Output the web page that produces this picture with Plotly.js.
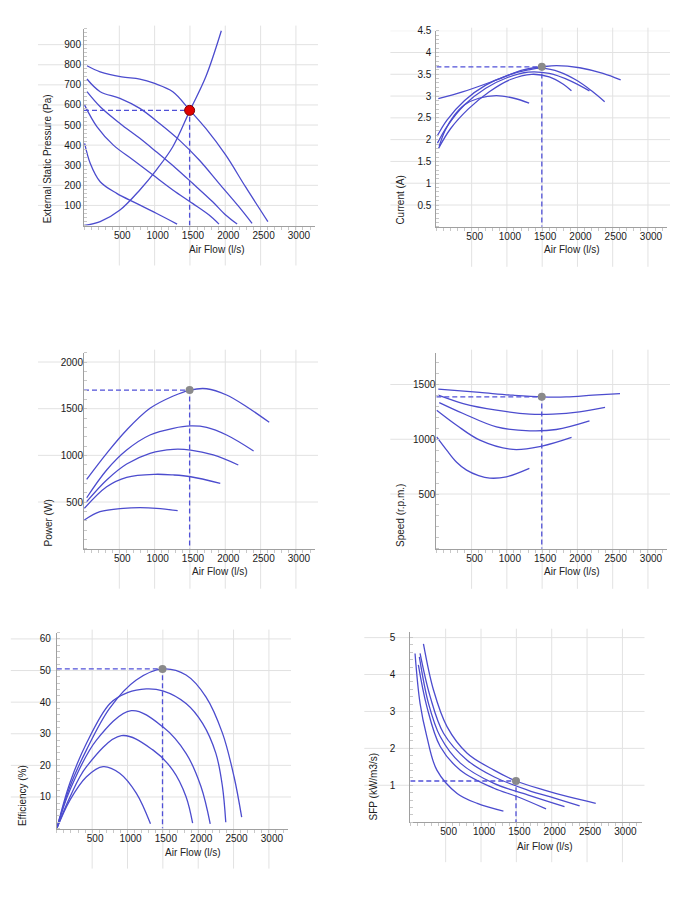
<!DOCTYPE html>
<html>
<head>
<meta charset="utf-8">
<script src="https://cdn.plot.ly/plotly-3.0.1.min.js"></script>
<style>
  html, body { margin: 0; padding: 0; background: #ffffff; }
  #chart { width: 695px; height: 900px; }
</style>
</head>
<body>
<div id="chart"></div>
<script>
// ---------------- DATA ----------------
const flowTicks = [500, 1000, 1500, 2000, 2500, 3000];
const opFlow = 1495;

// External static pressure (Pa) – five fan-speed curves + system curve
const pressureTicks = [100, 200, 300, 400, 500, 600, 700, 800, 900];
const pressureFlows = [
  [42, 229, 533, 790, 1000, 1257, 1500, 1724, 2005, 2285, 2603],
  [42, 229, 509, 790, 1070, 1350, 1631, 1911, 2192, 2379],
  [42, 229, 509, 790, 1023, 1304, 1537, 1818, 2005, 2168],
  [9, 182, 416, 696, 977, 1257, 1537, 1771, 1911],
  [9, 89, 229, 463, 743, 1023, 1318]
];
const pressureValues = [
  [795, 765, 740, 729, 707, 666, 573, 483, 351, 193, 19],
  [729, 666, 633, 583, 508, 425, 326, 210, 94, 11],
  [666, 591, 508, 434, 367, 284, 210, 119, 52, 7],
  [599, 492, 400, 326, 251, 177, 110, 52, 7],
  [409, 309, 218, 160, 110, 61, 7]
];
const systemFlow = [0, 229, 509, 790, 1023, 1257, 1500, 1724, 1944];
const systemPressure = [0, 19, 77, 177, 276, 392, 573, 740, 969];
const opPressure = 573;

// Current (A)
const currentTicks = [0.5, 1, 1.5, 2, 2.5, 3, 3.5, 4, 4.5];
const currentTickText = ['0.5', '1', '1.5', '2', '2.5', '3', '3.5', '4', '4.5'];
const currentFlows = [
  [27, 381, 853, 1230, 1500, 1702, 2032, 2362, 2613],
  [10, 150, 400, 700, 1000, 1300, 1500, 1750, 2000, 2200, 2386],
  [15, 150, 400, 700, 1000, 1300, 1600, 1900, 2170],
  [30, 200, 450, 750, 1050, 1350, 1600, 1800, 1915],
  [40, 120, 250, 400, 600, 850, 1100, 1315]
];
const currentValues = [
  [2.94, 3.10, 3.37, 3.60, 3.67, 3.70, 3.65, 3.52, 3.37],
  [2.08, 2.45, 2.90, 3.25, 3.47, 3.60, 3.64, 3.55, 3.35, 3.12, 2.87],
  [1.92, 2.30, 2.80, 3.18, 3.42, 3.55, 3.52, 3.35, 3.12],
  [1.80, 2.25, 2.70, 3.10, 3.38, 3.50, 3.44, 3.27, 3.12],
  [1.85, 2.20, 2.55, 2.80, 2.95, 3.01, 2.95, 2.84]
];
const opCurrent = 3.67;

// Power (W)
const powerTicks = [500, 1000, 1500, 2000];
const powerFlows = [
  [38, 321, 604, 934, 1264, 1500, 1736, 2019, 2302, 2622],
  [38, 321, 604, 934, 1264, 1510, 1736, 2019, 2401],
  [38, 321, 604, 934, 1264, 1510, 1830, 2184],
  [5, 321, 604, 1000, 1264, 1510, 1929],
  [5, 226, 557, 793, 1028, 1326]
];
const powerValues = [
  [743, 1022, 1272, 1504, 1636, 1700, 1714, 1647, 1521, 1354],
  [546, 843, 1057, 1218, 1290, 1315, 1300, 1218, 1047],
  [504, 736, 907, 1022, 1065, 1057, 1004, 897],
  [433, 664, 765, 797, 790, 771, 700],
  [307, 396, 433, 440, 433, 407]
];
const opPower = 1700;

// Speed (r.p.m.)
const speedTicks = [500, 1000, 1500];
const speedFlows = [
  [28, 617, 1088, 1497, 1842, 2218, 2604],
  [28, 381, 853, 1323, 1653, 2030, 2392],
  [42, 381, 853, 1323, 1700, 2171],
  [5, 288, 617, 1088, 1497, 1917],
  [5, 147, 288, 429, 600, 758, 994, 1319]
];
const speedValues = [
  [1457, 1427, 1402, 1387, 1387, 1402, 1417],
  [1402, 1326, 1265, 1229, 1229, 1250, 1290],
  [1335, 1235, 1113, 1077, 1089, 1168],
  [1265, 1128, 992, 907, 937, 1016],
  [1022, 901, 790, 718, 668, 645, 657, 734]
];
const opSpeed = 1387;

// Efficiency (%)
const effTicks = [10, 20, 30, 40, 50, 60];
const effFlows = [
  [0, 186, 420, 749, 1124, 1499, 1828, 2109, 2343, 2507, 2615],
  [0, 186, 420, 749, 1000, 1265, 1499, 1828, 2062, 2250, 2343, 2390],
  [0, 186, 561, 1054, 1499, 1828, 2039, 2170],
  [0, 186, 420, 913, 1358, 1640, 1828, 1921],
  [0, 186, 420, 655, 889, 1124, 1325]
];
const effValues = [
  [0, 13.3, 24.9, 38.1, 47.0, 50.5, 48.6, 41.7, 30.2, 16.4, 3.6],
  [0, 14.5, 27.0, 39.5, 43.0, 44.2, 43.6, 39.6, 33.3, 23.8, 13.3, 2.0],
  [0, 12.2, 28.0, 37.3, 32.2, 23.8, 13.3, 1.5],
  [0, 10.0, 19.6, 29.4, 24.9, 18.5, 10.1, 1.7],
  [0, 9.0, 16.4, 19.6, 17.5, 11.2, 1.5]
];
const opEff = 50.5;

// SFP (kW/m3/s)
const sfpTicks = [1, 2, 3, 4, 5];
const sfpFlows = [
  [186, 328, 519, 804, 1183, 1497, 1896, 2230, 2623],
  [138, 281, 470, 804, 1183, 1659, 2039, 2395],
  [128, 257, 423, 708, 1183, 1659, 2181],
  [114, 234, 423, 708, 1183, 1517, 1920],
  [67, 138, 234, 376, 662, 947, 1317]
];
const sfpValues = [
  [4.83, 3.58, 2.59, 1.87, 1.41, 1.116, 0.87, 0.69, 0.51],
  [4.57, 3.40, 2.41, 1.68, 1.23, 0.87, 0.65, 0.44],
  [4.48, 3.22, 2.32, 1.60, 1.05, 0.74, 0.42],
  [4.26, 3.13, 2.05, 1.41, 0.92, 0.69, 0.36],
  [4.57, 3.22, 2.32, 1.41, 0.78, 0.51, 0.30]
];
const opSfp = 1.116;

// ---------------- LAYOUT / STYLE ----------------
const W = 695, H = 900;
const FONT = 'Arial, "Liberation Sans", sans-serif';
const CURVE = 'rgb(76,76,206)';
const GRID = '#e2e2e2';
const AXIS = '#a0a0a0';

const panels = [
  { x0: 84,    x1: 315,   yTop: 28.6,  yBot: 225.5, yMax: 980,  yMinor: 20,  ticks: pressureTicks, text: null,
    flows: pressureFlows, vals: pressureValues, opY: opPressure, ytitle: 'External Static Pressure (Pa)',
    ytx: 48.3, xtx: 216.7, xty: 249.5, red: true, lblOff: 0 },
  { x0: 436.4, x1: 667,   yTop: 30.7,  yBot: 226.8, yMax: 4.5,  yMinor: 0.1, ticks: currentTicks, text: currentTickText,
    flows: currentFlows, vals: currentValues, opY: opCurrent, ytitle: 'Current (A)',
    ytx: 400.3, xtx: 571.7, xty: 249.7, lblOff: 2 },
  { x0: 84,    x1: 315,   yTop: 352.7, yBot: 548.7, yMax: 2100, yMinor: 100, ticks: powerTicks, text: null,
    flows: powerFlows, vals: powerValues, opY: opPower, ytitle: 'Power (W)',
    ytx: 48.3, xtx: 219.7, xty: 571.5, lblOff: -2 },
  { x0: 436.3, x1: 667,   yTop: 352.7, yBot: 548.8, yMax: 1790, yMinor: 100, ticks: speedTicks, text: null,
    flows: speedFlows, vals: speedValues, opY: opSpeed, ytitle: 'Speed (r.p.m.)',
    ytx: 400.7, xtx: 571.7, xty: 571.5, lblOff: -2 },
  { x0: 56.8,  x1: 288,   yTop: 632.6, yBot: 828.6, yMax: 62,   yMinor: 2,   ticks: effTicks, text: null,
    flows: effFlows, vals: effValues, opY: opEff, ytitle: 'Efficiency (%)',
    ytx: 22, xtx: 193, xty: 852, lblOff: 3 },
  { x0: 410.3, x1: 641.5, yTop: 631.7, yBot: 822.2, yMax: 5.16, yMinor: 0.2, ticks: sfpTicks, text: null,
    flows: sfpFlows, vals: sfpValues, opY: opSfp, ytitle: 'SFP (kW/m3/s)',
    ytx: 373.3, xtx: 545, xty: 846, lblOff: 12 }
];

const traces = [];
const shapes = [];
const annotations = [];
const layout = {
  width: W, height: H,
  margin: { l: 0, r: 0, t: 0, b: 0, pad: 0 },
  paper_bgcolor: '#ffffff', plot_bgcolor: 'rgba(0,0,0,0)',
  showlegend: false,
  font: { family: FONT, size: 10, color: '#222' }
};

panels.forEach((p, i) => {
  const n = i + 1;
  const xa = 'x' + n, ya = 'y' + n;
  const xKey = 'xaxis' + (n === 1 ? '' : n), yKey = 'yaxis' + (n === 1 ? '' : n);
  layout[xKey] = {
    domain: [p.x0 / W, p.x1 / W], range: [0, 3270], anchor: ya,
    showgrid: false, zeroline: false, showline: true, linecolor: AXIS, linewidth: 1,
    tickmode: 'array', tickvals: flowTicks, ticks: '', ticklabelshift: 3,
    tickfont: { family: FONT, size: 10, color: '#1a1a1a' },
    minor: { ticks: 'outside', ticklen: 3, dtick: 100, tick0: 0, tickcolor: '#c8c8c8', showgrid: false },
    fixedrange: true
  };
  const yax = {
    domain: [1 - p.yBot / H, 1 - p.yTop / H], range: [0, p.yMax], anchor: xa,
    showgrid: false, zeroline: false, showline: true, linecolor: AXIS, linewidth: 1,
    tickmode: 'array', tickvals: p.ticks, ticks: '', ticklabelstandoff: p.lblOff,
    tickfont: { family: FONT, size: 10, color: '#1a1a1a' },
    minor: { ticks: 'inside', ticklen: 3, dtick: p.yMinor, tick0: 0, tickcolor: '#c8c8c8', showgrid: false },
    fixedrange: true
  };
  if (p.text) yax.ticktext = p.text;
  layout[yKey] = yax;

  // extended grid lines (drawn through the axis scales)
  flowTicks.forEach(v => shapes.push({
    type: 'line', layer: 'below', xref: xa, yref: 'paper',
    x0: v, x1: v, y0: 1 - (p.yBot + 40) / H, y1: 1 - (p.yTop - 3) / H,
    line: { color: GRID, width: 1 }
  }));
  p.ticks.forEach(v => shapes.push({
    type: 'line', layer: 'below', xref: 'paper', yref: ya,
    x0: (p.x0 - 46) / W, x1: (p.x1 + 3) / W, y0: v, y1: v,
    line: { color: GRID, width: 1 }
  }));

  // fan curves
  p.flows.forEach((fx, k) => traces.push({
    type: 'scatter', mode: 'lines', x: fx, y: p.vals[k], xaxis: xa, yaxis: ya,
    line: { color: CURVE, width: 1.3, shape: 'spline', smoothing: 1 }, hoverinfo: 'skip'
  }));
  if (p.red) {
    traces.push({
      type: 'scatter', mode: 'lines', x: systemFlow, y: systemPressure, xaxis: xa, yaxis: ya,
      line: { color: CURVE, width: 1.3, shape: 'spline', smoothing: 1 }, hoverinfo: 'skip'
    });
  }
  // operating point guides
  traces.push({
    type: 'scatter', mode: 'lines', x: [0, opFlow, opFlow], y: [p.opY, p.opY, 0], xaxis: xa, yaxis: ya,
    line: { color: 'rgb(80,80,215)', width: 1.3, dash: '5px,3px' }, hoverinfo: 'skip'
  });
  traces.push({
    type: 'scatter', mode: 'markers', x: [opFlow], y: [p.opY], xaxis: xa, yaxis: ya,
    marker: p.red ? { color: '#e00000', size: 10, line: { color: '#7a0000', width: 1 } }
                  : { color: '#8a8a8a', size: 8, line: { width: 0 } },
    hoverinfo: 'skip'
  });

  // axis titles
  annotations.push({
    xref: 'paper', yref: 'paper', x: p.ytx / W, y: 1 - p.yBot / H,
    xanchor: 'center', yanchor: 'bottom', textangle: -90, showarrow: false,
    text: p.ytitle, font: { family: FONT, size: 10, color: '#222' }
  });
  annotations.push({
    xref: 'paper', yref: 'paper', x: p.xtx / W, y: 1 - p.xty / H,
    xanchor: 'center', yanchor: 'middle', showarrow: false,
    text: 'Air Flow (l/s)', font: { family: FONT, size: 10, color: '#222' }
  });
});

layout.shapes = shapes;
layout.annotations = annotations;

Plotly.newPlot('chart', traces, layout, { staticPlot: true, displayModeBar: false });
</script>
</body>
</html>
